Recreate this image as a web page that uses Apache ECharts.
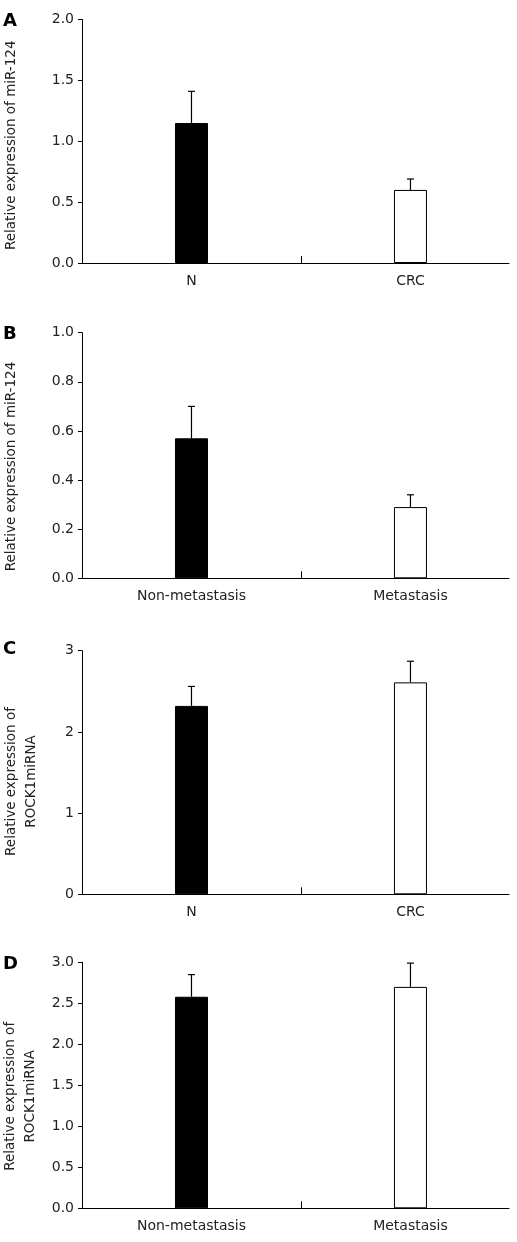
<!DOCTYPE html>
<html>
<head>
<meta charset="utf-8">
<script src="https://cdn.jsdelivr.net/npm/echarts@6/dist/echarts.min.js"></script>
<style>
html,body{margin:0;padding:0;background:#fff;}
#chart{width:517px;height:1242px;}
</style>
</head>
<body>
<div id="chart"></div>
<script>
// ---- data ----
const catsA = ['N', 'CRC'];
const catsB = ['Non-metastasis', 'Metastasis'];
const catsC = ['N', 'CRC'];
const catsD = ['Non-metastasis', 'Metastasis'];

const valA = [1.15, 0.60];
const errA = [0.26, 0.09];
const valB = [0.57, 0.29];
const errB = [0.13, 0.05];
const valC = [2.32, 2.61];
const errC = [0.24, 0.26];
const valD = [2.58, 2.70];
const errD = [0.27, 0.29];

const yMaxs = [2, 1, 3, 3];
const yIntervals = [0.5, 0.2, 1, 0.5];
const yDecimals = [1, 1, 0, 1];
const panelLetters = ['A', 'B', 'C', 'D'];
const yNames = [
  'Relative expression of miR-124',
  'Relative expression of miR-124',
  'Relative expression of\nROCK1miRNA',
  'Relative expression of\nROCK1miRNA'
];

// ---- layout ----
const FONT = 'DejaVu Sans';
const gridTops = [19.5, 332.7, 650.7, 962.3];
const gridHeights = [243.5, 245.6, 243.6, 246];
const letterTops = [12, 325.5, 640.5, 955.5];
const nameGaps = [61, 61, 41, 41];
const namePads = [[0, 8, 0, 0], [0, 22, 0, 0], [0, 18, 0, 0], [0, 22, 0, 0]];

const panels = [
  {cats: catsA, vals: valA, errs: errA},
  {cats: catsB, vals: valB, errs: errB},
  {cats: catsC, vals: valC, errs: errC},
  {cats: catsD, vals: valD, errs: errD}
];

const grid = [], xAxis = [], yAxis = [], series = [], title = [];

panels.forEach((p, k) => {
  grid.push({left: 82, width: 427, top: gridTops[k], height: gridHeights[k],
    containLabel: false, outerBoundsMode: 'none'});
  title.push({
    text: panelLetters[k], left: 3, top: letterTops[k], padding: 0,
    textStyle: {fontFamily: FONT, fontWeight: 'bold', fontSize: 18, color: '#000'}
  });
  const cats = p.cats;
  xAxis.push({
    type: 'value', gridIndex: k, min: 0, max: 1.95,
    splitLine: {show: false},
    axisLine: {show: true, lineStyle: {color: '#000', width: 1}},
    axisTick: {show: true, inside: true, length: 7, customValues: [1], lineStyle: {color: '#000'}},
    axisLabel: {
      show: true, customValues: cats.map((c, i) => i + 0.5), margin: 11,
      fontFamily: FONT, fontSize: 14, color: '#222',
      formatter: v => cats[Math.round(v - 0.5)] || ''
    }
  });
  yAxis.push({
    type: 'value', gridIndex: k, min: 0, max: yMaxs[k], interval: yIntervals[k],
    splitLine: {show: false},
    axisLine: {show: true, lineStyle: {color: '#000', width: 1}},
    axisTick: {show: true, length: 4, lineStyle: {color: '#000'}},
    axisLabel: {
      margin: 8, fontFamily: FONT, fontSize: 14, color: '#222',
      formatter: v => v.toFixed(yDecimals[k])
    },
    name: yNames[k], nameLocation: 'middle', nameGap: nameGaps[k], nameRotate: 90,
    nameTextStyle: {fontFamily: FONT, fontSize: 13.5, color: '#222', lineHeight: 20, padding: namePads[k]}
  });
  series.push({
    type: 'bar', xAxisIndex: k, yAxisIndex: k, barWidth: 33,
    data: p.vals.map((v, i) => ({
      value: [i + 0.5, v],
      itemStyle: {color: i === 0 ? '#000' : '#fff', borderColor: '#000', borderWidth: 1}
    })),
    z: 3
  });
  series.push({
    type: 'custom', xAxisIndex: k, yAxisIndex: k, z: 2,
    data: p.vals.map((v, i) => [i + 0.5, v, p.errs[i]]),
    renderItem: (params, api) => {
      const x = api.value(0), y = api.value(1), e = api.value(2);
      const p0 = api.coord([x, y]);
      const p1 = api.coord([x, y + e]);
      const st = {stroke: '#000', lineWidth: 1.2};
      return {
        type: 'group',
        children: [
          {type: 'line', shape: {x1: p0[0], y1: p0[1], x2: p1[0], y2: p1[1]}, style: st},
          {type: 'line', shape: {x1: p1[0] - 3.5, y1: p1[1], x2: p1[0] + 3.5, y2: p1[1]}, style: st}
        ]
      };
    }
  });
});

const chart = echarts.init(document.getElementById('chart'), null, {renderer: 'canvas'});
chart.setOption({
  animation: false,
  backgroundColor: '#fff',
  title, grid, xAxis, yAxis, series
});
</script>
</body>
</html>
